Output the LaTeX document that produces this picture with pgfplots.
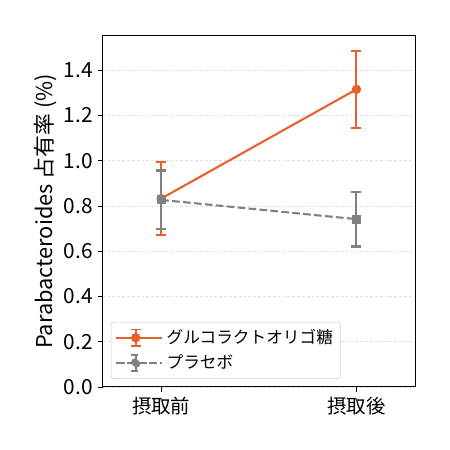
\documentclass[border=0pt]{standalone}
\usepackage{fontspec}
\setmainfont{Noto Sans CJK JP}
\usepackage{pgfplots}
\pgfplotsset{compat=1.18}
\definecolor{orangeC}{RGB}{232,97,44}
\definecolor{grayC}{RGB}{128,128,128}
\begin{document}
\begin{tikzpicture}
\useasboundingbox (0,0) rectangle (324pt,324pt);
\begin{axis}[
  at={(73.9pt,45.4pt)}, anchor=south west,
  scale only axis, width=224.9pt, height=252.7pt,
  xmin=-0.3, xmax=1.3, ymin=0, ymax=1.552,
  xtick={0,1}, xticklabels={摂取前,摂取後},
  ytick={0,0.2,0.4,0.6,0.8,1.0,1.2,1.4},
  yticklabel style={/pgf/number format/fixed, /pgf/number format/fixed zerofill, /pgf/number format/precision=1, font=\fontsize{15}{18}\selectfont},
  /pgf/number format/assume math mode=true,
  xticklabel style={font=\fontsize{14}{17}\selectfont},
  xtick pos=lower, ytick pos=left, tick align=outside,
  major tick length=3.6pt,
  tick style={black, line width=0.6pt},
  axis line style={line width=0.7pt},
  ymajorgrids, grid style={dash pattern=on 2pt off 1.5pt, black!13, line width=0.5pt},
  ylabel={Parabacteroides 占有率 (\%)},
  every axis y label/.style={at={(axis description cs:-0.182,0.5)}, rotate=90, anchor=center, font=\fontsize{15.7}{18}\selectfont},
  legend style={at={(0.026,0.023)}, anchor=south west, draw=black!18, rounded corners=2pt, fill=white, font=\fontsize{12}{14}\selectfont, row sep=1.5pt, inner sep=3pt, nodes={inner sep=2.5pt}},
  legend cell align=left,
]
\addplot[orangeC, line width=1.5pt, mark=*, mark size=2.6pt,
  legend image code/.code={
    \path (-1pt,0pt) -- (32pt,0pt);
    \draw[orangeC, line width=1.5pt] (0pt,0pt) -- (26pt,0pt);
    \draw[orangeC, line width=1.3pt] (13pt,-6pt) -- (13pt,6pt) (9.4pt,-6pt) -- (16.6pt,-6pt) (9.4pt,6pt) -- (16.6pt,6pt);
    \fill[orangeC] (13pt,0pt) circle (2.6pt);
  },
  error bars/.cd, y dir=both, y explicit,
  error bar style={line width=1.5pt, orangeC, solid},
  error mark options={line width=1.5pt, mark size=3.6pt, orangeC, rotate=90, solid},
  ] coordinates {(0,0.833) +- (0,0.16) (1,1.316) +- (0,0.171)};
\addlegendentry{グルコラクトオリゴ糖}
\addplot[grayC, line width=1.5pt, dash pattern=on 5.5pt off 2.4pt, mark=square*, mark size=2.5pt, mark options={solid},
  legend image code/.code={
    \path (-1pt,0pt) -- (32pt,0pt);
    \draw[grayC, line width=1.5pt, dash pattern=on 5.5pt off 2.4pt] (0pt,0pt) -- (26pt,0pt);
    \draw[grayC, line width=1.3pt] (13pt,-6pt) -- (13pt,6pt) (9.4pt,-6pt) -- (16.6pt,-6pt) (9.4pt,6pt) -- (16.6pt,6pt);
    \fill[grayC] (10.5pt,-2.5pt) rectangle (15.5pt,2.5pt);
  },
  error bars/.cd, y dir=both, y explicit,
  error bar style={line width=1.5pt, grayC, solid},
  error mark options={line width=1.5pt, mark size=3.6pt, grayC, rotate=90, solid},
  ] coordinates {(0,0.827) +- (0,0.13) (1,0.742) +- (0,0.121)};
\addlegendentry{プラセボ}
\end{axis}
\end{tikzpicture}
\end{document}
